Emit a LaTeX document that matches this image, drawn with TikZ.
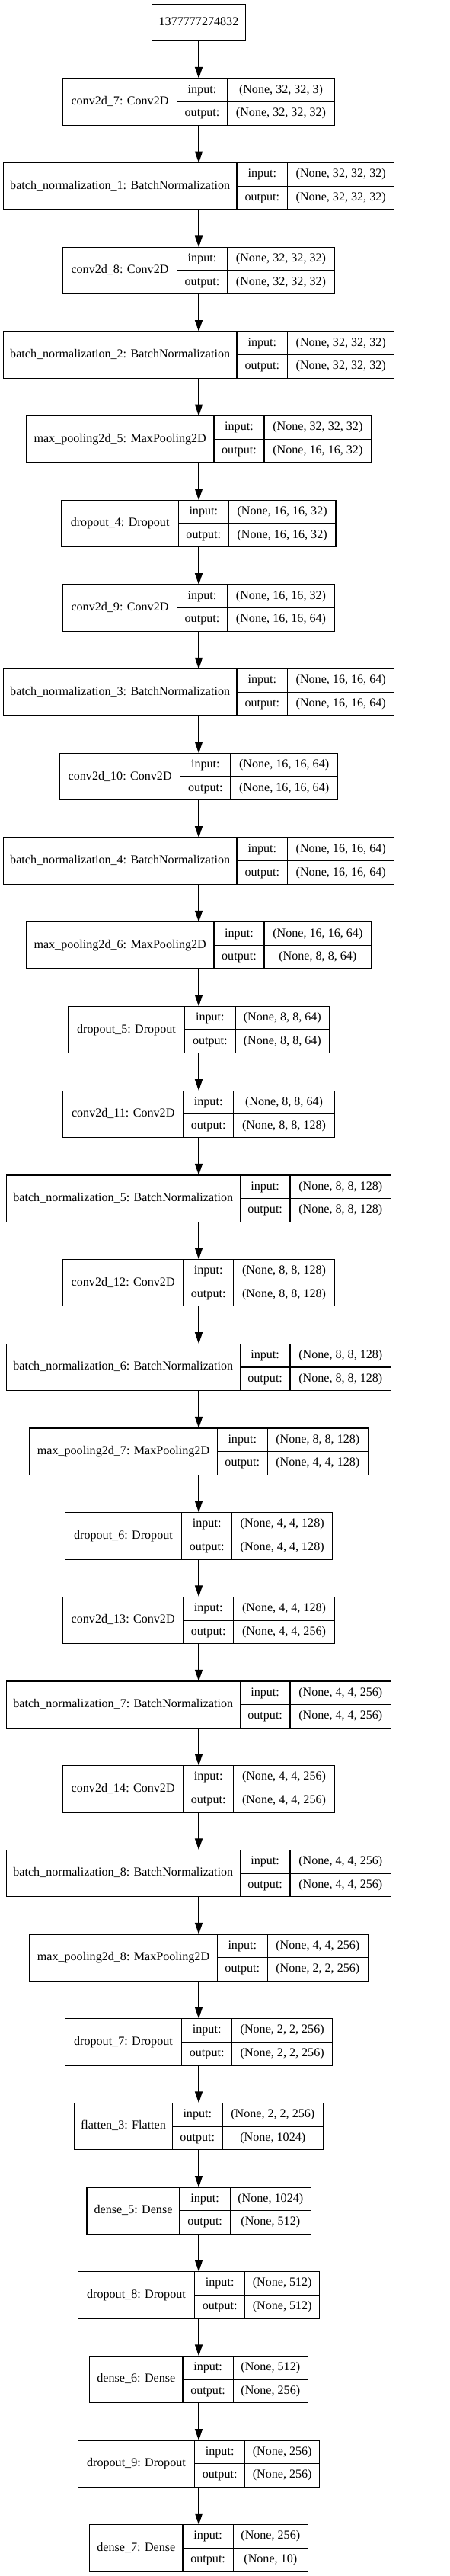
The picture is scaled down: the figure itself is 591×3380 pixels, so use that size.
\documentclass[tikz,border=0pt]{standalone}
\usepackage{fontspec}
\setmainfont{Liberation Serif}
\usetikzlibrary{arrows.meta}
\tikzset{
  box/.style={draw=black, line width=1.3pt, rectangle, inner sep=0pt, outer sep=0pt, minimum height=61.3pt},
  inbox/.style={draw=black, line width=1.3pt, rectangle, inner sep=0pt, outer sep=0pt, minimum height=48.4pt, minimum width=123pt},
  rule/.style={draw=black, line width=1.3pt},
  txt/.style={inner sep=0pt, font=\fontsize{16.1}{19}\selectfont, text height=11pt, text depth=3.2pt},
  arr/.style={draw=black, line width=1.3pt, -{Triangle[length=15pt,width=10pt]}},
}
\newcommand\lay[9]{%
  \pgfmathsetmacro\Ltop{103+110.68*#2}%
  \pgfmathsetmacro\Lbot{\Ltop+61.3}%
  \pgfmathsetmacro\Lmid{\Ltop+30.65}%
  \pgfmathsetmacro\Lw{#6-#3}%
  \node[box, minimum width=\Lw pt] (#1) at (261,\Lmid) {};
  \draw[rule] (#4,\Ltop) -- (#4,\Lbot) (#5,\Ltop) -- (#5,\Lbot) (#4,\Lmid) -- (#6,\Lmid);
  \node[txt] (#1n) at ({(#3+#4)/2},\Lmid) {#7};
  \node[txt] (#1i) at ({(#4+#5)/2},{\Ltop+15.3}) {input:};
  \node[txt] (#1o) at ({(#4+#5)/2},{\Ltop+46}) {output:};
  \node[txt] (#1a) at ({(#5+#6)/2},{\Ltop+15.3}) {#8};
  \node[txt] (#1b) at ({(#5+#6)/2},{\Ltop+46}) {#9};
}
\begin{document}
\begin{tikzpicture}[x=1pt,y=-1pt]
\useasboundingbox (0,0) rectangle (591,3380);
\fill[white] (0,0) rectangle (591,3380);
\node[inbox] (in) at (261,29.5) {};
\node[txt] (inl) at (261,29.5) {1377777274832};
\lay{c7}{0}{82.7}{232.3}{298.7}{439.3}{conv2d\_7: Conv2D}{(None, 32, 32, 3)}{(None, 32, 32, 32)}
\lay{bnA}{1}{4.3}{311}{377.7}{517.7}{batch\_normalization\_1: BatchNormalization}{(None, 32, 32, 32)}{(None, 32, 32, 32)}
\lay{c8}{2}{82.7}{232.3}{298.7}{439.3}{conv2d\_8: Conv2D}{(None, 32, 32, 32)}{(None, 32, 32, 32)}
\lay{bnB}{3}{4.3}{311}{377.7}{517.7}{batch\_normalization\_2: BatchNormalization}{(None, 32, 32, 32)}{(None, 32, 32, 32)}
\lay{mpA}{4}{34.3}{281}{347}{487.7}{max\_pooling2d\_5: MaxPooling2D}{(None, 32, 32, 32)}{(None, 16, 16, 32)}
\lay{doA}{5}{81}{234.3}{300.3}{441}{dropout\_4: Dropout}{(None, 16, 16, 32)}{(None, 16, 16, 32)}
\lay{c9}{6}{82.7}{232.3}{298.7}{439.3}{conv2d\_9: Conv2D}{(None, 16, 16, 32)}{(None, 16, 16, 64)}
\lay{bnC}{7}{4.3}{311}{377.7}{517.7}{batch\_normalization\_3: BatchNormalization}{(None, 16, 16, 64)}{(None, 16, 16, 64)}
\lay{c10}{8}{78.7}{236.7}{303}{443.3}{conv2d\_10: Conv2D}{(None, 16, 16, 64)}{(None, 16, 16, 64)}
\lay{bnD}{9}{4.3}{311}{377.7}{517.7}{batch\_normalization\_4: BatchNormalization}{(None, 16, 16, 64)}{(None, 16, 16, 64)}
\lay{mpB}{10}{34.3}{281}{347}{487.7}{max\_pooling2d\_6: MaxPooling2D}{(None, 16, 16, 64)}{(None, 8, 8, 64)}
\lay{doB}{11}{89.3}{242.7}{309}{432.7}{dropout\_5: Dropout}{(None, 8, 8, 64)}{(None, 8, 8, 64)}
\lay{c11}{12}{82.7}{240.7}{306.7}{439.3}{conv2d\_11: Conv2D}{(None, 8, 8, 64)}{(None, 8, 8, 128)}
\lay{bnE}{13}{8.3}{315.3}{381}{513.7}{batch\_normalization\_5: BatchNormalization}{(None, 8, 8, 128)}{(None, 8, 8, 128)}
\lay{c12}{14}{82.7}{240.7}{306.7}{439.3}{conv2d\_12: Conv2D}{(None, 8, 8, 128)}{(None, 8, 8, 128)}
\lay{bnF}{15}{8.3}{315.3}{381}{513.7}{batch\_normalization\_6: BatchNormalization}{(None, 8, 8, 128)}{(None, 8, 8, 128)}
\lay{mpC}{16}{38.7}{285.3}{351.3}{483.3}{max\_pooling2d\_7: MaxPooling2D}{(None, 8, 8, 128)}{(None, 4, 4, 128)}
\lay{doC}{17}{85.3}{238.7}{304.7}{436.7}{dropout\_6: Dropout}{(None, 4, 4, 128)}{(None, 4, 4, 128)}
\lay{c13}{18}{82.7}{240.7}{306.7}{439.3}{conv2d\_13: Conv2D}{(None, 4, 4, 128)}{(None, 4, 4, 256)}
\lay{bnG}{19}{8.3}{315.3}{381}{513.7}{batch\_normalization\_7: BatchNormalization}{(None, 4, 4, 256)}{(None, 4, 4, 256)}
\lay{c14}{20}{82.7}{240.7}{306.7}{439.3}{conv2d\_14: Conv2D}{(None, 4, 4, 256)}{(None, 4, 4, 256)}
\lay{bnH}{21}{8.3}{315.3}{381}{513.7}{batch\_normalization\_8: BatchNormalization}{(None, 4, 4, 256)}{(None, 4, 4, 256)}
\lay{mpD}{22}{38.7}{285.3}{351.3}{483.3}{max\_pooling2d\_8: MaxPooling2D}{(None, 4, 4, 256)}{(None, 2, 2, 256)}
\lay{doD}{23}{85.3}{238.7}{304.7}{436.7}{dropout\_7: Dropout}{(None, 2, 2, 256)}{(None, 2, 2, 256)}
\lay{flA}{24}{97.7}{226.3}{292.3}{424.3}{flatten\_3: Flatten}{(None, 2, 2, 256)}{(None, 1024)}
\lay{dA}{25}{114}{236}{302.3}{408.3}{dense\_5: Dense}{(None, 1024)}{(None, 512)}
\lay{doE}{26}{102.3}{255.7}{321.7}{419.7}{dropout\_8: Dropout}{(None, 512)}{(None, 512)}
\lay{dB}{27}{117.7}{240}{306.3}{404.3}{dense\_6: Dense}{(None, 512)}{(None, 256)}
\lay{doF}{28}{102.3}{255.7}{321.7}{419.7}{dropout\_9: Dropout}{(None, 256)}{(None, 256)}
\lay{dC}{29}{117.7}{240}{306.3}{404.3}{dense\_7: Dense}{(None, 256)}{(None, 10)}
\foreach \a/\b in {in/c7,c7/bnA,bnA/c8,c8/bnB,bnB/mpA,mpA/doA,doA/c9,c9/bnC,bnC/c10,c10/bnD,bnD/mpB,mpB/doB,doB/c11,c11/bnE,bnE/c12,c12/bnF,bnF/mpC,mpC/doC,doC/c13,c13/bnG,bnG/c14,c14/bnH,bnH/mpD,mpD/doD,doD/flA,flA/dA,dA/doE,doE/dB,dB/doF,doF/dC}
  \draw[arr] (\a.south) -- (\b.north);
\end{tikzpicture}
\end{document}
